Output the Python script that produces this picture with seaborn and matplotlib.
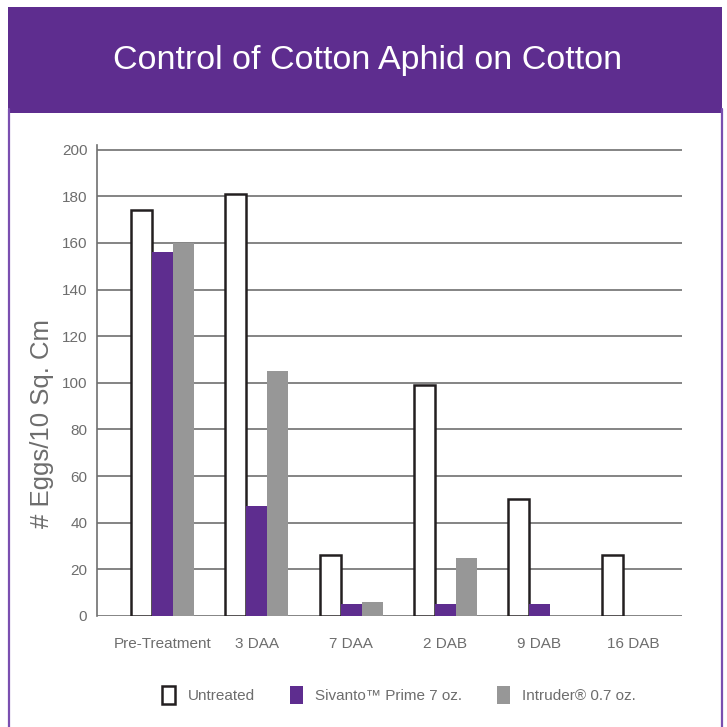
import matplotlib
matplotlib.use("Agg")
import matplotlib.pyplot as plt
import seaborn as sns
import pandas as pd
from matplotlib.patches import Patch, Rectangle
from matplotlib.lines import Line2D

# data
categories = ["Pre-Treatment", "3 DAA", "7 DAA", "2 DAB", "9 DAB", "16 DAB"]
series_names = ["Untreated", "Sivanto\u2122 Prime 7 oz.", "Intruder\u00ae 0.7 oz."]
untreated = [174, 181, 26, 99, 50, 26]
sivanto = [156, 47, 5, 5, 5, 0]
intruder = [160, 105, 6, 25, 0, 0]
y_ticks = [0, 20, 40, 60, 80, 100, 120, 140, 160, 180, 200]

purple = "#5e2d8f"
grey_bar = "#979797"
text_grey = "#6d6d6d"

df = pd.DataFrame({
    "category": categories * 3,
    "series": [series_names[0]] * 6 + [series_names[1]] * 6 + [series_names[2]] * 6,
    "value": untreated + sivanto + intruder,
})

sns.set_style("white")
plt.rcParams["font.family"] = ["Liberation Sans", "DejaVu Sans"]

fig = plt.figure(figsize=(7.27, 7.27), dpi=100)

# frame: purple banner + thin side borders
fig.patches.append(Rectangle((0.011, 0.8446), 0.982, 0.146, transform=fig.transFigure,
                             facecolor=purple, edgecolor="none", zorder=0))
fig.lines.append(Line2D([0.012, 0.012], [0.0, 0.85], transform=fig.transFigure,
                        color="#7a4fb0", lw=1.6))
fig.lines.append(Line2D([0.9925, 0.9925], [0.0, 0.85], transform=fig.transFigure,
                        color="#7a4fb0", lw=1.6))
fig.text(0.505, 0.917, "Control of Cotton Aphid on Cotton", color="white",
         fontsize=24.5, ha="center", va="center")

ax = fig.add_axes([0.1334, 0.1527, 0.805, 0.6479])
palette = ["white", purple, grey_bar]
sns.barplot(data=df, x="category", y="value", hue="series", hue_order=series_names,
            order=categories, palette=palette, width=0.67, saturation=1,
            ax=ax, legend=False, zorder=3)

for i, cont in enumerate(ax.containers):
    for bar in cont:
        if i == 0:
            bar.set_edgecolor("#231f20")
            bar.set_linewidth(1.8)
        else:
            bar.set_linewidth(0)

ax.set_ylim(0, 202)
ax.set_xlim(-0.70, 5.52)
ax.set_yticks(y_ticks)
ax.yaxis.grid(True, color="#707070", lw=1.2, zorder=0)
ax.set_axisbelow(True)
ax.xaxis.grid(False)
for s in ["top", "right", "bottom"]:
    ax.spines[s].set_visible(False)
ax.spines["left"].set_color("#707070")
ax.spines["left"].set_linewidth(1.2)
ax.tick_params(axis="both", length=0, colors=text_grey, labelsize=11)
ax.tick_params(axis="x", pad=15)
ax.tick_params(axis="y", pad=7)
ax.set_xlabel("")
ax.set_ylabel("# Eggs/10 Sq. Cm", color=text_grey, fontsize=18.5)
ax.yaxis.set_label_coords(-0.074, 0.408)

handles = [Patch(facecolor="white", edgecolor="#231f20", lw=1.8),
           Patch(facecolor=purple, edgecolor="none"),
           Patch(facecolor=grey_bar, edgecolor="none")]
leg = fig.legend(handles, series_names, loc="center", bbox_to_anchor=(0.549, 0.044),
                 ncol=3, frameon=False, fontsize=11, handlelength=0.85,
                 handleheight=1.4, handletextpad=0.8, columnspacing=2.3)
for t in leg.get_texts():
    t.set_color(text_grey)

fig.savefig("out.png", dpi=100, facecolor="white")
